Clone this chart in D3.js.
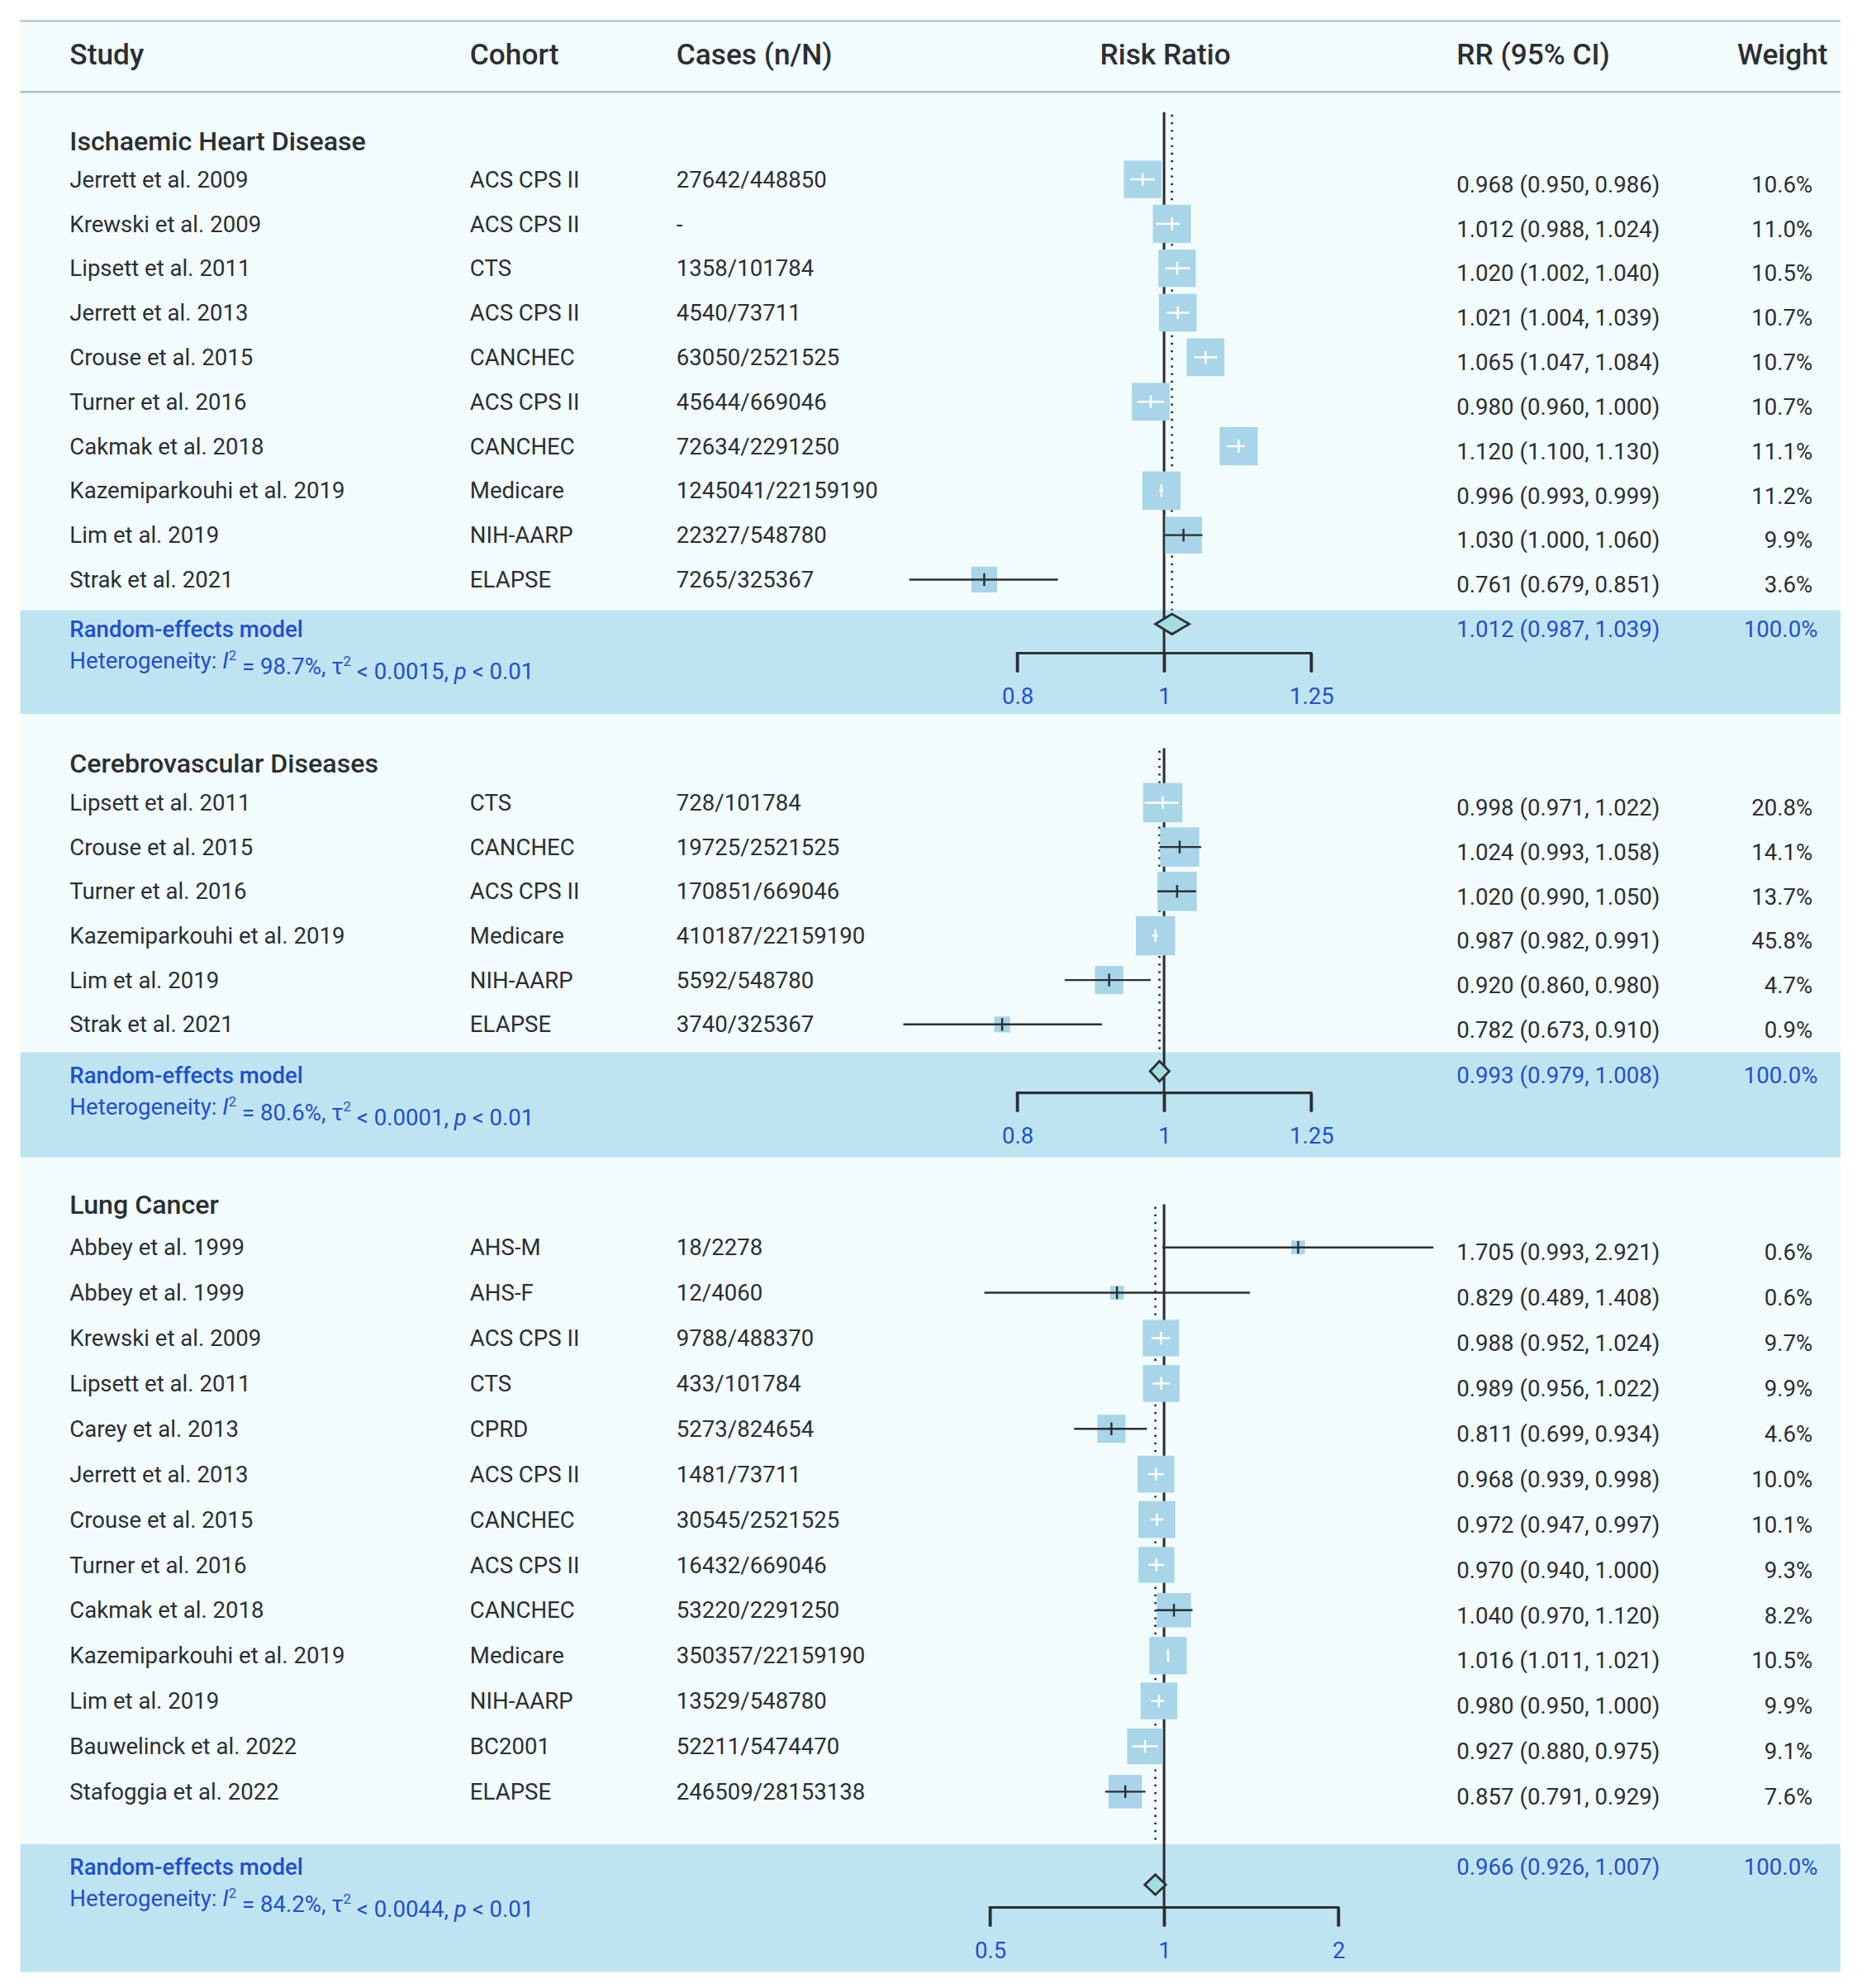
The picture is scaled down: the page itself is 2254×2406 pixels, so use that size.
<!DOCTYPE html>
<html><head><meta charset="utf-8">
<script src="https://cdn.jsdelivr.net/npm/d3@7"></script>
<style>body{margin:0;background:#fff}text{font-family:Roboto,"Noto Sans",sans-serif}</style>
</head><body>
<script>
// data
var ihdStudy = ["Jerrett et al. 2009","Krewski et al. 2009","Lipsett et al. 2011","Jerrett et al. 2013","Crouse et al. 2015","Turner et al. 2016","Cakmak et al. 2018","Kazemiparkouhi et al. 2019","Lim et al. 2019","Strak et al. 2021"];
var ihdCohort = ["ACS CPS II","ACS CPS II","CTS","ACS CPS II","CANCHEC","ACS CPS II","CANCHEC","Medicare","NIH-AARP","ELAPSE"];
var ihdCases = ["27642/448850","-","1358/101784","4540/73711","63050/2521525","45644/669046","72634/2291250","1245041/22159190","22327/548780","7265/325367"];
var ihdRR = [0.968,1.012,1.020,1.021,1.065,0.980,1.120,0.996,1.030,0.761];
var ihdLo = [0.950,0.988,1.002,1.004,1.047,0.960,1.100,0.993,1.000,0.679];
var ihdHi = [0.986,1.024,1.040,1.039,1.084,1.000,1.130,0.999,1.060,0.851];
var ihdW = [10.6,11.0,10.5,10.7,10.7,10.7,11.1,11.2,9.9,3.6];
var ihdPooled = [1.012,0.987,1.039];
var ihdHet = ["98.7%","0.0015"];
var ihdTicks = [0.8,1,1.25];

var cvdStudy = ["Lipsett et al. 2011","Crouse et al. 2015","Turner et al. 2016","Kazemiparkouhi et al. 2019","Lim et al. 2019","Strak et al. 2021"];
var cvdCohort = ["CTS","CANCHEC","ACS CPS II","Medicare","NIH-AARP","ELAPSE"];
var cvdCases = ["728/101784","19725/2521525","170851/669046","410187/22159190","5592/548780","3740/325367"];
var cvdRR = [0.998,1.024,1.020,0.987,0.920,0.782];
var cvdLo = [0.971,0.993,0.990,0.982,0.860,0.673];
var cvdHi = [1.022,1.058,1.050,0.991,0.980,0.910];
var cvdW = [20.8,14.1,13.7,45.8,4.7,0.9];
var cvdPooled = [0.993,0.979,1.008];
var cvdHet = ["80.6%","0.0001"];
var cvdTicks = [0.8,1,1.25];

var lcStudy = ["Abbey et al. 1999","Abbey et al. 1999","Krewski et al. 2009","Lipsett et al. 2011","Carey et al. 2013","Jerrett et al. 2013","Crouse et al. 2015","Turner et al. 2016","Cakmak et al. 2018","Kazemiparkouhi et al. 2019","Lim et al. 2019","Bauwelinck et al. 2022","Stafoggia et al. 2022"];
var lcCohort = ["AHS-M","AHS-F","ACS CPS II","CTS","CPRD","ACS CPS II","CANCHEC","ACS CPS II","CANCHEC","Medicare","NIH-AARP","BC2001","ELAPSE"];
var lcCases = ["18/2278","12/4060","9788/488370","433/101784","5273/824654","1481/73711","30545/2521525","16432/669046","53220/2291250","350357/22159190","13529/548780","52211/5474470","246509/28153138"];
var lcRR = [1.705,0.829,0.988,0.989,0.811,0.968,0.972,0.970,1.040,1.016,0.980,0.927,0.857];
var lcLo = [0.993,0.489,0.952,0.956,0.699,0.939,0.947,0.940,0.970,1.011,0.950,0.880,0.791];
var lcHi = [2.921,1.408,1.024,1.022,0.934,0.998,0.997,1.000,1.120,1.021,1.000,0.975,0.929];
var lcW = [0.6,0.6,9.7,9.9,4.6,10.0,10.1,9.3,8.2,10.5,9.9,9.1,7.6];
var lcPooled = [0.966,0.926,1.007];
var lcHet = ["84.2%","0.0044"];
var lcTicks = [0.5,1,2];

var W = 1470, H = 1568;
var svg = d3.select("body").append("svg")
  .attr("width", 2254).attr("height", 2406)
  .attr("viewBox", "0 0 " + W + " " + H);

var dark = "#2b2f33", blue = "#1f4fcf", band = "#bfe4f1", bg = "#f3fcfc", boxCol = "#a9d5e8";
var colStudy = 55, colCohort = 371, colCases = 534, colRR = 1150, colW = 1431;
var x1 = 919;
var fmt = d3.format(".3f");

svg.append("rect").attr("x", 16).attr("y", 16).attr("width", 1437).attr("height", 1540).attr("fill", bg);
svg.append("line").attr("x1", 16).attr("x2", 1453).attr("y1", 16).attr("y2", 16).attr("stroke", "#a7c3c3").attr("stroke-width", 1.5);
svg.append("line").attr("x1", 16).attr("x2", 1453).attr("y1", 72).attr("y2", 72).attr("stroke", "#a7c3c3").attr("stroke-width", 1.5);

var hdr = [["Study", colStudy, "start"], ["Cohort", colCohort, "start"], ["Cases (n/N)", colCases, "start"],
           ["Risk Ratio", 920, "middle"], ["RR (95% CI)", 1150, "start"], ["Weight", 1443, "end"]];
svg.selectAll("text.hdr").data(hdr).enter().append("text")
  .attr("x", function (d) { return d[1] }).attr("y", 50)
  .attr("text-anchor", function (d) { return d[2] })
  .attr("font-size", 23).attr("font-weight", 500).attr("fill", dark)
  .text(function (d) { return d[0] });

var sizeScale = d3.scalePow().exponent(0.35).domain([0, 12]).range([0, 31]).clamp(true);

function panel(o) {
  var g = svg.append("g");
  var x = d3.scaleLog().domain([o.ticks[0], o.ticks[2]]).range([x1 - o.half, x1 + o.half]);
  var y = function (i) { return o.y0 + i * o.step };
  var n = o.study.length;

  // summary band
  g.append("rect").attr("x", 16).attr("width", 1437).attr("y", o.bandTop).attr("height", o.bandH).attr("fill", band);

  g.append("text").attr("x", colStudy).attr("y", o.titleY).attr("dy", "0.35em")
    .attr("font-size", 21).attr("font-weight", 500).attr("fill", dark).text(o.title);

  var rows = d3.range(n);
  var cols = [[o.study, colStudy], [o.cohort, colCohort], [o.cases, colCases]];
  cols.forEach(function (c) {
    g.selectAll(null).data(rows).enter().append("text")
      .attr("x", c[1]).attr("y", y).attr("dy", "0.35em")
      .attr("font-size", 18).attr("fill", dark)
      .text(function (i) { return c[0][i] });
  });
  g.selectAll(null).data(rows).enter().append("text")
    .attr("x", colRR).attr("y", function (i) { return y(i) + 4 }).attr("dy", "0.35em")
    .attr("font-size", 18).attr("fill", dark)
    .text(function (i) { return fmt(o.rr[i]) + " (" + fmt(o.lo[i]) + ", " + fmt(o.hi[i]) + ")" });
  g.selectAll(null).data(rows).enter().append("text")
    .attr("x", colW).attr("y", function (i) { return y(i) + 4 }).attr("dy", "0.35em")
    .attr("text-anchor", "end").attr("font-size", 18).attr("fill", dark)
    .text(function (i) { return o.w[i].toFixed(1) + "%" });

  // reference lines
  g.append("line").attr("x1", x(1)).attr("x2", x(1)).attr("y1", o.lineTop).attr("y2", o.axisY + 15)
    .attr("stroke", dark).attr("stroke-width", 2);
  g.append("line").attr("x1", x(o.pooled[0])).attr("x2", x(o.pooled[0])).attr("y1", o.lineTop + 2).attr("y2", o.bandTop)
    .attr("stroke", dark).attr("stroke-width", 1.8).attr("stroke-dasharray", "1.5,4.5");

  // boxes and CIs
  rows.forEach(function (i) {
    var s = sizeScale(o.w[i]), cx = x(o.rr[i]), cy = y(i);
    g.append("rect").attr("x", cx - s / 2).attr("y", cy - s / 2).attr("width", s).attr("height", s).attr("fill", boxCol);
    var inside = x(o.lo[i]) >= cx - s / 2 && x(o.hi[i]) <= cx + s / 2;
    var c = inside ? "#ffffff" : dark;
    g.append("line").attr("x1", x(o.lo[i])).attr("x2", x(o.hi[i])).attr("y1", cy).attr("y2", cy).attr("stroke", c).attr("stroke-width", 1.6);
    g.append("line").attr("x1", cx).attr("x2", cx).attr("y1", cy - 5).attr("y2", cy + 5).attr("stroke", c).attr("stroke-width", 1.6);
  });

  // diamond
  var dy = o.diamondY, p = o.pooled;
  g.append("path")
    .attr("d", "M" + x(p[1]) + "," + dy + "L" + x(p[0]) + "," + (dy - 8) + "L" + x(p[2]) + "," + dy + "L" + x(p[0]) + "," + (dy + 8) + "Z")
    .attr("fill", "#a3dede").attr("stroke", dark).attr("stroke-width", 1.8);

  g.append("text").attr("x", colStudy).attr("y", o.modelY).attr("dy", "0.35em")
    .attr("font-size", 18).attr("font-weight", 500).attr("fill", blue).text("Random-effects model");
  var het = g.append("text").attr("x", colStudy).attr("y", o.modelY + 25).attr("dy", "0.35em")
    .attr("font-size", 18).attr("fill", blue);
  het.append("tspan").text("Heterogeneity: ");
  het.append("tspan").attr("font-style", "italic").text("I");
  het.append("tspan").attr("font-size", 11).attr("dy", "-0.6em").text("2");
  het.append("tspan").attr("dy", "0.6em").text(" = " + o.het[0] + ", \u03c4");
  het.append("tspan").attr("font-size", 11).attr("dy", "-0.6em").text("2");
  het.append("tspan").attr("dy", "0.6em").text(" < " + o.het[1] + ", ");
  het.append("tspan").attr("font-style", "italic").text("p");
  het.append("tspan").text(" < 0.01");
  g.append("text").attr("x", colRR).attr("y", o.modelY).attr("dy", "0.35em")
    .attr("font-size", 18).attr("fill", blue)
    .text(fmt(p[0]) + " (" + fmt(p[1]) + ", " + fmt(p[2]) + ")");
  g.append("text").attr("x", 1435).attr("y", o.modelY).attr("dy", "0.35em").attr("text-anchor", "end")
    .attr("font-size", 18).attr("fill", blue).text("100.0%");

  // axis
  var ax = g.append("g").attr("transform", "translate(0," + o.axisY + ")")
    .call(d3.axisBottom(x).tickValues(o.ticks).tickSize(15).tickPadding(12).tickFormat(d3.format("")));
  ax.select(".domain").attr("stroke", dark).attr("stroke-width", 2).attr("d",
    "M" + x(o.ticks[0]) + ",15V0H" + x(o.ticks[2]) + "V15");
  ax.selectAll(".tick line").attr("stroke", dark).attr("stroke-width", 2).attr("y2", 15);
  ax.selectAll(".tick text").attr("font-size", 18).attr("fill", blue).attr("font-family", "Roboto");
}

panel({ title: "Ischaemic Heart Disease", study: ihdStudy, cohort: ihdCohort, cases: ihdCases, rr: ihdRR, lo: ihdLo, hi: ihdHi, w: ihdW,
  pooled: ihdPooled, het: ihdHet, ticks: ihdTicks, half: 116,
  titleY: 111, y0: 141, step: 35.1, lineTop: 88, bandTop: 481, bandH: 82, diamondY: 492, modelY: 496, axisY: 515 });
panel({ title: "Cerebrovascular Diseases", study: cvdStudy, cohort: cvdCohort, cases: cvdCases, rr: cvdRR, lo: cvdLo, hi: cvdHi, w: cvdW,
  pooled: cvdPooled, het: cvdHet, ticks: cvdTicks, half: 116,
  titleY: 602, y0: 633, step: 35, lineTop: 590, bandTop: 830, bandH: 83, diamondY: 845, modelY: 848, axisY: 862 });
panel({ title: "Lung Cancer", study: lcStudy, cohort: lcCohort, cases: lcCases, rr: lcRR, lo: lcLo, hi: lcHi, w: lcW,
  pooled: lcPooled, het: lcHet, ticks: lcTicks, half: 137.5,
  titleY: 950, y0: 984, step: 35.8, lineTop: 950, bandTop: 1455, bandH: 101, diamondY: 1487, modelY: 1473, axisY: 1505 });
</script>
</body></html>
